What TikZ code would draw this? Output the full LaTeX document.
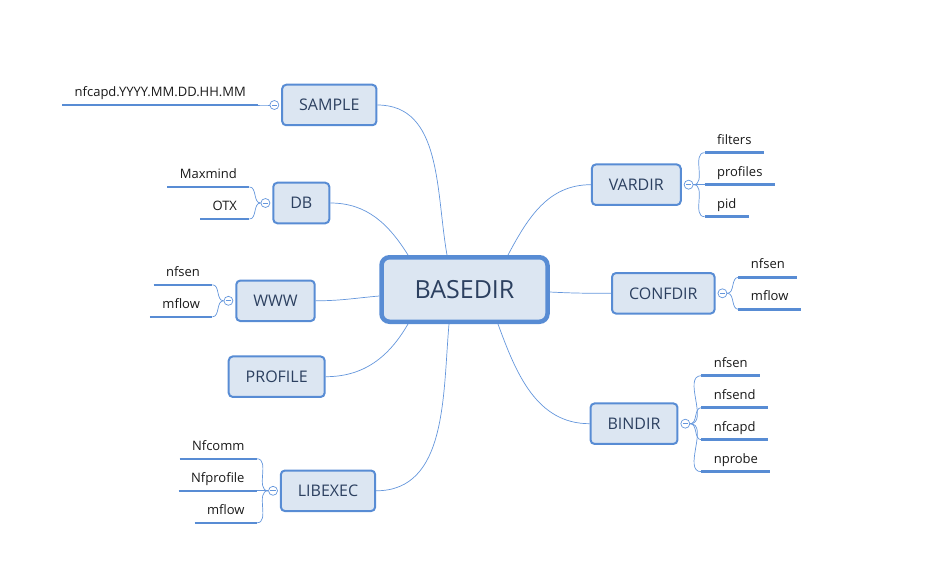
\documentclass[tikz,border=0pt]{standalone}
\usepackage{fontspec}
\setmainfont{Open Sans}
\usetikzlibrary{positioning}
\definecolor{boxfill}{RGB}{220,230,242}
\definecolor{boxline}{RGB}{88,140,212}
\definecolor{boxtext}{RGB}{44,64,96}
\definecolor{lineblue}{RGB}{100,150,220}
\begin{document}
\begin{tikzpicture}[
    x=1pt, y=-1pt,
    level distance=16pt,
    sibling distance=32pt,
    box/.style={rectangle, rounded corners=4pt, draw=boxline, fill=boxfill, line width=2pt, text=boxtext, font=\fontsize{16}{19}\selectfont, minimum height=40.5pt, inner xsep=17pt},
    root/.style={box, line width=4.5pt, rounded corners=8pt, minimum width=166pt, minimum height=64.5pt, font=\fontsize{25}{29}\selectfont},
    knob/.style={circle, draw=lineblue, fill=white, line width=0.7pt, minimum size=9pt, inner sep=0pt, path picture={\draw[lineblue, line width=0.7pt] ([xshift=-2.6pt]path picture bounding box.center) -- ([xshift=2.6pt]path picture bounding box.center);}},
    leaf/.style={font=\fontsize{13}{15}\selectfont, text=black!90, inner xsep=12.5pt, inner ysep=0pt, outer sep=0pt, text height=10pt, text depth=8.5pt},
    uline/.style={draw=boxline, line width=2.6pt},
    link/.style={draw=lineblue, line width=0.7pt},
    edge from parent/.style={link},
    lefty/.style={grow=left, every child node/.style={leaf, anchor=south east}, edge from parent path={(\tikzparentnode.west) to[out=180, in=0] (\tikzchildnode.south east)}},
    righty/.style={grow'=right, every child node/.style={leaf, anchor=south west}, edge from parent path={(\tikzparentnode.east) to[out=0, in=180] (\tikzchildnode.south west)}}
    ]
    \useasboundingbox (0,0) rectangle (927,575);

    \node[root] (base) at (464.5,289.5) {BASEDIR};

    % left side
    \node[box] (sample) at (329.3,105) {SAMPLE};
    \node[box] (db) at (301.3,203) {DB};
    \node[box] (www) at (275.5,300.8) {WWW};
    \node[box] (profile) at (276.7,376.7) {PROFILE};
    \node[box] (libexec) at (328,490.8) {LIBEXEC};

    % right side
    \node[box] (vardir) at (636.3,184.7) {VARDIR};
    \node[box] (confdir) at (663.3,293.3) {CONFDIR};
    \node[box] (bindir) at (634,423.7) {BINDIR};

    \draw[link] (sample.east) to[out=0, in=100] ([xshift=-17.5pt]base.north);
    \draw[link] (db.east) to[out=0, in=122] ([xshift=-56.5pt]base.north);
    \draw[link] (www.east) to[out=0, in=185] ([yshift=-6.5pt]base.west);
    \draw[link] (profile.east) to[out=0, in=240] ([xshift=-56.5pt]base.south);
    \draw[link] (libexec.east) to[out=0, in=265] ([xshift=-15.5pt]base.south);
    \draw[link] (vardir.west) to[out=180, in=62] ([xshift=43.5pt]base.north);
    \draw[link] (confdir.west) to[out=180, in=-3] ([yshift=-2.5pt]base.east);
    \draw[link] (bindir.west) to[out=180, in=290] ([xshift=33.5pt]base.south);

    \node[knob, left=2pt of sample] (sampleK) {} [lefty]
      child {node (sampleNf) {nfcapd.YYYY.MM.DD.HH.MM}};
    \node[knob, left=2pt of db] (dbK) {} [lefty]
      child {node (dbMax) {Maxmind}}
      child {node (dbOtx) {OTX}};
    \node[knob, left=2pt of www] (wwwK) {} [lefty]
      child {node (wwwNfsen) {nfsen}}
      child {node (wwwMflow) {mflow}};
    \node[knob, left=2pt of libexec] (libK) {} [lefty]
      child {node (libComm) {Nfcomm}}
      child {node (libProf) {Nfprofile}}
      child {node (libMflow) {mflow}};

    \node[knob, right=2pt of vardir] (varK) {} [righty]
      child {node (varFilt) {filters}}
      child {node (varProf) {profiles}}
      child {node (varPid) {pid}};
    \node[knob, right=2pt of confdir] (confK) {} [righty]
      child {node (confNfsen) {nfsen}}
      child {node (confMflow) {mflow}};
    \node[knob, right=2pt of bindir] (binK) {} [righty]
      child {node (binNfsen) {nfsen}}
      child {node (binNfsend) {nfsend}}
      child {node (binNfcapd) {nfcapd}}
      child {node (binNprobe) {nprobe}};

    \foreach \n in {sampleNf, dbMax, dbOtx, wwwNfsen, wwwMflow, libComm, libProf, libMflow, varFilt, varProf, varPid, confNfsen, confMflow, binNfsen, binNfsend, binNfcapd, binNprobe}
      \draw[uline] (\n.south west) -- (\n.south east);
\end{tikzpicture}
\end{document}
